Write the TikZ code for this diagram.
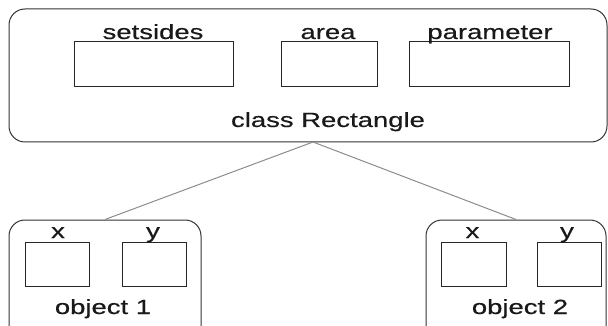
\documentclass[tikz,border=0pt]{standalone}
\usepackage{fontspec}
\setmainfont{Liberation Sans}[FakeStretch=1.34,FakeBold=0.4]
\begin{document}
\begin{tikzpicture}[x=1pt,y=-1pt,
  outerbox/.style={draw=black!80, line width=1pt, rounded corners=16pt, inner sep=0pt},
  slotbox/.style={draw=black!85, line width=1pt, inner sep=0pt},
  lbl/.style={inner sep=0pt, anchor=base, font=\fontsize{20.5}{22}\selectfont, text=black!90},
  conn/.style={draw=black!45, line width=1pt}]
\useasboundingbox (0,0) rectangle (608,326);
\clip (0,0) rectangle (608,326);
% class box
\node[outerbox, minimum width=598pt, minimum height=133pt] (cls) at (308,75.5) {};
\node[slotbox, minimum width=159pt, minimum height=45pt] (setsides) at (153.5,64.5) {};
\node[slotbox, minimum width=96pt, minimum height=45pt] (area) at (329,64.5) {};
\node[slotbox, minimum width=160pt, minimum height=45pt] (param) at (489,64.5) {};
\node[lbl] (tsetsides) at (153,39) {setsides};
\node[lbl] (tarea) at (328,39) {area};
\node[lbl] (tparam) at (490,39) {parameter};
\node[lbl] (tcls) at (328,127) {class Rectangle};
% objects
\node[outerbox, minimum width=192pt, minimum height=124pt] (obj1) at (105,282) {};
\node[outerbox, minimum width=180pt, minimum height=124pt] (obj2) at (516,282) {};
\node[slotbox, minimum width=64pt, minimum height=44pt] (x1) at (57,264) {};
\node[slotbox, minimum width=64pt, minimum height=44pt] (y1) at (154,264) {};
\node[slotbox, minimum width=65pt, minimum height=44pt] (x2) at (473.5,264) {};
\node[slotbox, minimum width=64pt, minimum height=44pt] (y2) at (569,264) {};
\node[lbl] (tx1) at (58,238) {x};
\node[lbl] (ty1) at (153,238) {y};
\node[lbl] (tx2) at (472.5,238) {x};
\node[lbl] (ty2) at (567,238) {y};
\node[lbl] (tobj1) at (103,314) {object 1};
\node[lbl] (tobj2) at (520,314) {object 2};
% connectors
\coordinate (apex) at (313,142);
\draw[conn] (apex) -- (obj1.north);
\draw[conn] (apex) -- (obj2.north);
\end{tikzpicture}
\end{document}
